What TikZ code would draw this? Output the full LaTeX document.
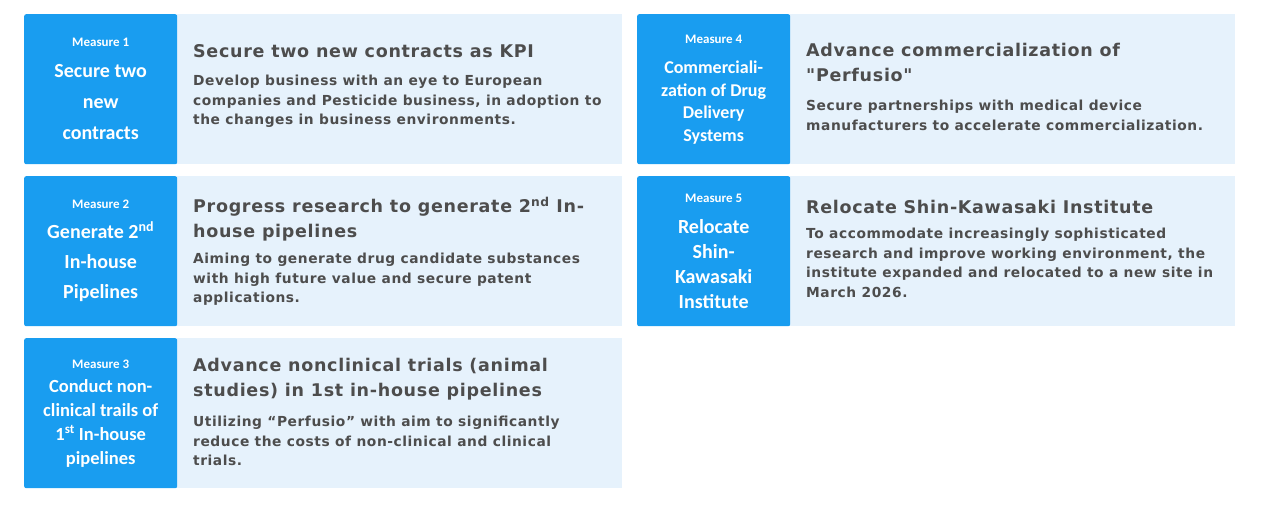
\documentclass[tikz,border=0pt]{standalone}
\usepackage{fontspec}
\usepackage{tikz}
\usetikzlibrary{positioning}
\newfontfamily\capfont{Carlito}
\newfontfamily\descfont[LetterSpace=4]{DejaVu Sans}
\definecolor{measureblue}{HTML}{199DF0}
\definecolor{panelblue}{HTML}{E6F2FC}
\definecolor{textgray}{HTML}{4D4D4D}
\newcommand{\mlabel}[1]{{\fontsize{13}{13}\selectfont #1}}

\begin{document}
\begin{tikzpicture}[x=1pt, y=-1pt,
  measure_box/.style={fill=measureblue, rounded corners=2pt, minimum width=153pt,
    minimum height=150pt, text=white, align=center, font=\capfont\bfseries,
    inner sep=0pt, anchor=north west},
  panel_box/.style={fill=panelblue, minimum width=445pt, minimum height=150pt,
    inner sep=0pt, anchor=north west},
  title_text/.style={anchor=north west, inner sep=0pt, align=left, text=textgray,
    font=\descfont\bfseries\fontsize{17.5}{24.5}\selectfont},
  body_text/.style={anchor=north west, inner sep=0pt, align=left, text=textgray,
    font=\descfont\bfseries\fontsize{13.8}{19.5}\selectfont},
]
\useasboundingbox (0,0) rectangle (1262,515);
% panels
\node[panel_box] (p1) at (177,14) {};
\node[panel_box] (p2) at (177,176) {};
\node[panel_box] (p3) at (177,338) {};
\node[panel_box] (p4) at (790,14) {};
\node[panel_box] (p5) at (790,176) {};
% measure boxes
\node[measure_box, font=\capfont\bfseries\fontsize{20}{31}\selectfont] (m1) at (24,14)
  {\mlabel{Measure 1}\\ Secure two\\ new\\ contracts};
\node[measure_box, font=\capfont\bfseries\fontsize{20}{30}\selectfont] (m2) at (24,176)
  {\mlabel{Measure 2}\\ Generate 2\textsuperscript{nd}\\ In-house\\ Pipelines};
\node[measure_box, font=\capfont\bfseries\fontsize{18.5}{24}\selectfont] (m3) at (24,338)
  {\mlabel{Measure 3}\\ Conduct non-\\ clinical trails of\\ 1\textsuperscript{st} In-house\\ pipelines};
\node[measure_box, font=\capfont\bfseries\fontsize{18}{22.5}\selectfont] (m4) at (637,14)
  {\mlabel{Measure 4}\\[8pt] Commerciali-\\ zation of Drug\\ Delivery\\ Systems};
\node[measure_box, font=\capfont\bfseries\fontsize{20}{25}\selectfont] (m5) at (637,176)
  {\mlabel{Measure 5}\\[6pt] Relocate\\ Shin-\\ Kawasaki\\ Institute};
% titles and descriptions
\node[title_text] (t1) at (193,44) {Secure two new contracts as KPI};
\node[body_text] (d1) at (193,75) {Develop business with an eye to European\\
  companies and Pesticide business, in adoption to\\ the changes in business environments.};
\node[title_text] (t2) at (193,197) {Progress research to generate 2\textsuperscript{nd} In-\\ house pipelines};
\node[body_text] (d2) at (193,253) {Aiming to generate drug candidate substances\\
  with high future value and secure patent\\ applications.};
\node[title_text] (t3) at (193,358) {Advance nonclinical trials (animal\\ studies) in 1st in-house pipelines};
\node[body_text] (d3) at (193,416) {Utilizing “Perfusio” with aim to significantly\\
  reduce the costs of non-clinical and clinical\\ trials.};
\node[title_text] (t4) at (806,43) {Advance commercialization of\\ "Perfusio"};
\node[body_text] (d4) at (806,100) {Secure partnerships with medical device\\
  manufacturers to accelerate commercialization.};
\node[title_text] (t5) at (806,200) {Relocate Shin-Kawasaki Institute};
\node[body_text] (d5) at (806,228) {To accommodate increasingly sophisticated\\
  research and improve working environment, the\\ institute expanded and relocated to a new site in\\ March 2026.};
\end{tikzpicture}
\end{document}
